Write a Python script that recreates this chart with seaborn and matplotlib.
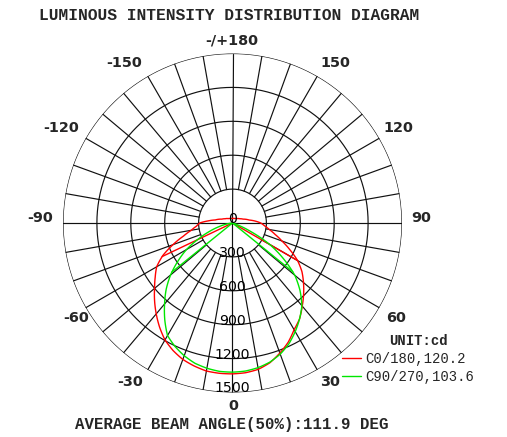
import matplotlib
matplotlib.use("Agg")
import matplotlib.pyplot as plt
import matplotlib.transforms as mtransforms
import numpy as np
import pandas as pd
import seaborn as sns

# polar angle from nadir (deg); right side = C0 / C90, left side = C180 / C270
ANGLES = [0, 5, 10, 15, 20, 25, 30, 35, 40, 45, 50, 55, 60, 65, 70, 75, 80, 85, 90,
          95, 100, 110, 120, 135, 150, 165, 180]
C0   = [1335, 1330, 1315, 1280, 1225, 1165, 1090, 1035, 960, 890, 820, 750, 665, 560,
        465, 390, 330, 285, 250, 200, 150, 100, 75, 55, 45, 42, 40]
C180 = [1335, 1335, 1330, 1310, 1285, 1245, 1195, 1125, 1050, 975, 900, 835, 775, 680,
        560, 450, 370, 320, 290, 215, 155, 100, 75, 55, 45, 42, 40]
C90  = [1320, 1315, 1300, 1275, 1235, 1180, 1110, 1035, 955, 845, 720, 550, 380, 175,
        35, 0, 0, 0, 0, 0, 0, 0, 0, 0, 0, 0, 0]
C270 = [1320, 1318, 1305, 1285, 1250, 1205, 1150, 1045, 935, 830, 715, 590, 470, 330,
        215, 120, 50, 10, 0, 0, 0, 0, 0, 0, 0, 0, 0]

# half beam angles (deg)
HALF_C0, HALF_C180 = 60.0, 64.5
HALF_C90, HALF_C270 = 51.0, 51.0

RINGS = [300, 600, 900, 1200, 1500]
R_MAX = 1500

LEGEND_LABELS = ["C0/180,120.2", "C90/270,103.6"]
TITLE = "LUMINOUS INTENSITY DISTRIBUTION DIAGRAM"
FOOTER = "AVERAGE BEAM ANGLE(50%):111.9 DEG"

# angle labels (text, x px, y px)
THETA_LABELS = [
    ("-/+180", 232, 40), ("150", 335, 63), ("-150", 124, 63),
    ("120", 398, 128), ("-120", 61, 128), ("90", 421, 218), ("-90", 40, 218),
    ("60", 396, 318), ("-60", 76, 318), ("30", 330, 382), ("-30", 130, 382),
    ("0", 233, 406),
]

W, H = 507, 437
sns.set_style("white")
plt.rcParams["font.family"] = ["DejaVu Sans"]
MONO = "Liberation Mono"

fig = plt.figure(figsize=(W / 100, H / 100), dpi=100)
cx, cy, rad = 232.5, 223.0, 169.5
ax = fig.add_axes([(cx - rad) / W, (H - cy - rad) / H, 2 * rad / W, 2 * rad / H],
                  projection="polar")
ax.set_theta_zero_location("S")
ax.set_theta_direction(1)
ax.set_ylim(0, R_MAX)
ax.grid(False)
ax.set_xticks([])
ax.set_yticks([])
ax.spines["polar"].set_visible(False)
ax.set_facecolor("none")

grid_kw = dict(color="#111111", lw=0.85, zorder=1)
full = np.linspace(0, 2 * np.pi, 721)
for v in RINGS:
    ax.plot(full, np.full_like(full, v), **grid_kw)
for a in range(0, 360, 10):
    r0 = 0 if a % 90 == 0 else RINGS[0]
    ax.plot([np.deg2rad(a)] * 2, [r0, R_MAX], **grid_kw)


def closed_curve(left, right):
    ang = np.concatenate([-np.array(ANGLES[::-1]), np.array(ANGLES[1:])])
    val = np.concatenate([np.array(left[::-1]), np.array(right[1:])])
    return pd.DataFrame({"theta": np.deg2rad(ang), "cd": val})


red = closed_curve(C180, C0)
green = closed_curve(C270, C90)
sns.lineplot(data=red, x="theta", y="cd", ax=ax, sort=False, estimator=None,
             color="#ff0000", lw=1.0, label=LEGEND_LABELS[0], zorder=3)
sns.lineplot(data=green, x="theta", y="cd", ax=ax, sort=False, estimator=None,
             color="#00e600", lw=1.0, label=LEGEND_LABELS[1], zorder=4)

# let the polar transform bend each segment instead of drawing chords
for line in ax.get_lines():
    if line.get_label() in LEGEND_LABELS:
        line.get_path()._interpolation_steps = 12

# beam angle lines from the centre to the curve
for half, vals, sign, col in [(HALF_C0, C0, 1, "#ff0000"), (HALF_C180, C180, -1, "#ff0000"),
                              (HALF_C90, C90, 1, "#00e600"), (HALF_C270, C270, -1, "#00e600")]:
    r_end = np.interp(half, ANGLES, vals)
    t = np.deg2rad(sign * half)
    ax.plot([t, t], [0, r_end], color=col, lw=1.0, zorder=3)

ax.set_xlabel("")
ax.set_ylabel("")

# radial value labels along the nadir axis
lab_tr = mtransforms.offset_copy(ax.transData, fig=fig, x=0, y=4, units="dots")
for v in [0] + RINGS:
    ax.text(0, v, str(v), transform=lab_tr, ha="center", va="center",
            fontsize=10.2, color="black", zorder=5)

for s, x, y in THETA_LABELS:
    fig.text(x / W, 1 - y / H, s, ha="center", va="center",
             fontsize=10.4, fontweight="bold")

fig.text(229 / W, 1 - 16 / H, TITLE, ha="center", va="center",
         family=MONO, fontweight="bold", fontsize=11.7)
fig.text(232 / W, 1 - 424 / H, FOOTER, ha="center", va="center",
         family=MONO, fontweight="bold", fontsize=11.3)
fig.text(418.5 / W, 1 - 341 / H, "UNIT:cd", ha="center", va="center",
         family=MONO, fontweight="bold", fontsize=10)

leg_lines = [l for l in ax.get_lines() if l.get_label() in LEGEND_LABELS]
ax.legend(leg_lines, LEGEND_LABELS, loc="upper left",
          bbox_to_anchor=(341.7 / W, 1 - 351.5 / H), bbox_transform=fig.transFigure,
          frameon=False, prop={"family": MONO, "size": 10},
          handlelength=1.4, handletextpad=0.3, labelspacing=0.3,
          borderpad=0, borderaxespad=0)

fig.savefig("out.png", dpi=100, facecolor="white")
